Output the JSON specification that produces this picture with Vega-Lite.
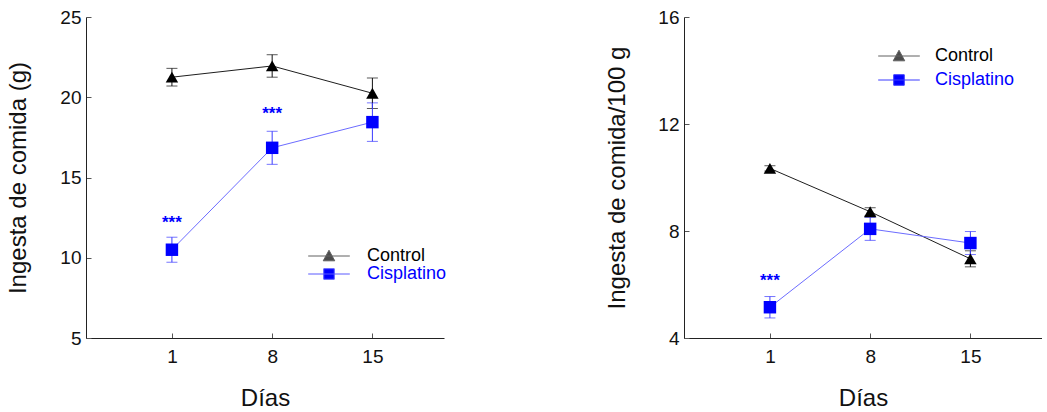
{
  "$schema": "https://vega.github.io/schema/vega-lite/v6.json",
  "background": "white",
  "padding": {"left": 6, "top": 8, "right": 0, "bottom": 0},
  "config": {
    "font": "Liberation Sans",
    "view": {"stroke": null},
    "axis": {
      "grid": false,
      "domainColor": "#222222",
      "domainWidth": 1,
      "tickColor": "#555555",
      "tickSize": -5,
      "labelFont": "Liberation Sans",
      "labelFontSize": 19,
      "labelColor": "#111111",
      "titleFont": "Liberation Sans",
      "titleFontSize": 24,
      "titleFontWeight": "normal",
      "titleColor": "#111111"
    },
    "legend": {
      "labelFont": "Liberation Sans",
      "labelFontSize": 18,
      "symbolSize": 256,
      "symbolStrokeWidth": 1
    }
  },
  "datasets": {
    "consumo": [
      {"dia": 1, "grupo": "Control", "media": 21.25, "ee": 0.55},
      {"dia": 8, "grupo": "Control", "media": 21.95, "ee": 0.7},
      {"dia": 15, "grupo": "Control", "media": 20.25, "ee": 0.95},
      {"dia": 1, "grupo": "Cisplatino", "media": 10.5, "ee": 0.78},
      {"dia": 8, "grupo": "Cisplatino", "media": 16.85, "ee": 1.03},
      {"dia": 15, "grupo": "Cisplatino", "media": 18.45, "ee": 1.2}
    ],
    "consumo_rel": [
      {"dia": 1, "grupo": "Control", "media": 10.34, "ee": 0.1},
      {"dia": 8, "grupo": "Control", "media": 8.72, "ee": 0.15},
      {"dia": 15, "grupo": "Control", "media": 6.96, "ee": 0.3},
      {"dia": 1, "grupo": "Cisplatino", "media": 5.15, "ee": 0.4},
      {"dia": 8, "grupo": "Cisplatino", "media": 8.08, "ee": 0.43},
      {"dia": 15, "grupo": "Cisplatino", "media": 7.55, "ee": 0.43}
    ],
    "sig_abs": [
      {"dia": 1, "media": 12.4, "texto": "***"},
      {"dia": 8, "media": 19.2, "texto": "***"}
    ],
    "sig_rel": [
      {"dia": 1, "media": 6.27, "texto": "***"}
    ]
  },
  "spacing": 240,
  "bounds": "flush",
  "resolve": {
    "scale": {"fill": "independent", "stroke": "independent", "color": "independent", "shape": "independent", "opacity": "independent"},
    "legend": {"fill": "independent", "stroke": "independent", "color": "independent", "shape": "independent", "opacity": "independent"}
  },
  "hconcat": [
    {
      "width": 358,
      "height": 321,
      "data": {"name": "consumo"},
      "encoding": {
        "x": {"field": "dia", "type": "quantitative",
              "scale": {"domain": [-5, 20], "nice": false, "zero": false},
              "axis": {"values": [1, 8, 15], "title": "Días", "labelPadding": 14,
                       "titleX": 179, "titleY": 67, "titleBaseline": "alphabetic"}},
        "y": {"field": "media", "type": "quantitative",
              "scale": {"domain": [5, 25], "nice": false, "zero": false},
              "axis": {"values": [5, 10, 15, 20, 25], "title": "Ingesta de comida (g)", "labelPadding": 10,
                       "titleX": -61, "titleY": 160.5, "titleBaseline": "alphabetic", "titleAngle": -90}}
      },
      "layer": [
        {
          "mark": {"type": "line", "strokeWidth": 1},
          "encoding": {
            "stroke": {"field": "grupo", "type": "nominal",
                       "scale": {"range": ["#6c6cff", "#1e1e1e"]},
                       "legend": null}
          }
        },
        {
          "mark": {"type": "errorbar", "ticks": {"size": 11}, "thickness": 1},
          "encoding": {
            "yError": {"field": "ee"},
            "color": {"field": "grupo", "type": "nominal",
                      "scale": {"range": ["#3a3aff", "#111111"]},
                      "legend": null}
          }
        },
        {
          "mark": {"type": "point", "filled": true},
          "encoding": {
            "shape": {"field": "grupo", "type": "nominal",
                      "scale": {"range": ["square", "triangle-up"]},
                      "legend": null},
            "fill": {"field": "grupo", "type": "nominal",
                     "scale": {"domain": ["Control", "Cisplatino"], "range": ["#000000", "#0000ff"]},
                     "legend": {"orient": "none", "legendX": 234, "legendY": 230, "title": null, "padding": 0,
                                "values": ["Control"],
                                "symbolType": "M-2.6,0H2.6M-0.72,0.6L0,-0.72L0.72,0.6Z",
                                "symbolStrokeColor": "#1e1e1e",
                                "labelOffset": 29, "labelColor": "#000000"}},
            "opacity": {"field": "grupo", "type": "nominal",
                        "scale": {"type": "ordinal", "domain": ["Cisplatino", "Control"], "range": [1, 1]},
                        "legend": {"orient": "none", "legendX": 234, "legendY": 248, "title": null, "padding": 0,
                                   "values": ["Cisplatino"],
                                   "symbolType": "M-2.6,0H2.6M-0.66,-0.66H0.66V0.66H-0.66Z",
                                   "symbolFillColor": "#0000ff",
                                   "symbolStrokeColor": "#5a5aff",
                                   "symbolOpacity": 1,
                                   "labelOffset": 29, "labelColor": "#0000ff"}},
            "size": {"value": 155}
          }
        },
        {
          "data": {"name": "sig_abs"},
          "mark": {"type": "text", "color": "#0000ff", "fontSize": 17, "fontWeight": "bold", "baseline": "alphabetic", "dy": 9},
          "encoding": {"text": {"field": "texto"}}
        }
      ]
    },
    {
      "width": 358,
      "height": 321,
      "data": {"name": "consumo_rel"},
      "encoding": {
        "x": {"field": "dia", "type": "quantitative",
              "scale": {"domain": [-5, 20], "nice": false, "zero": false},
              "axis": {"values": [1, 8, 15], "title": "Días", "labelPadding": 14,
                       "titleX": 179, "titleY": 67, "titleBaseline": "alphabetic"}},
        "y": {"field": "media", "type": "quantitative",
              "scale": {"domain": [4, 16], "nice": false, "zero": false},
              "axis": {"values": [4, 8, 12, 16], "title": "Ingesta de comida/100 g", "labelPadding": 10,
                       "titleX": -60, "titleY": 160.5, "titleBaseline": "alphabetic", "titleAngle": -90}}
      },
      "layer": [
        {
          "mark": {"type": "line", "strokeWidth": 1},
          "encoding": {
            "stroke": {"field": "grupo", "type": "nominal",
                       "scale": {"range": ["#6c6cff", "#1e1e1e"]},
                       "legend": null}
          }
        },
        {
          "mark": {"type": "errorbar", "ticks": {"size": 11}, "thickness": 1},
          "encoding": {
            "yError": {"field": "ee"},
            "color": {"field": "grupo", "type": "nominal",
                      "scale": {"range": ["#3a3aff", "#111111"]},
                      "legend": null}
          }
        },
        {
          "mark": {"type": "point", "filled": true},
          "encoding": {
            "shape": {"field": "grupo", "type": "nominal",
                      "scale": {"range": ["square", "triangle-up"]},
                      "legend": null},
            "fill": {"field": "grupo", "type": "nominal",
                     "scale": {"domain": ["Control", "Cisplatino"], "range": ["#000000", "#0000ff"]},
                     "legend": {"orient": "none", "legendX": 206, "legendY": 30, "title": null, "padding": 0,
                                "values": ["Control"],
                                "symbolType": "M-2.6,0H2.6M-0.72,0.6L0,-0.72L0.72,0.6Z",
                                "symbolStrokeColor": "#1e1e1e",
                                "labelOffset": 27, "labelColor": "#000000"}},
            "opacity": {"field": "grupo", "type": "nominal",
                        "scale": {"type": "ordinal", "domain": ["Cisplatino", "Control"], "range": [1, 1]},
                        "legend": {"orient": "none", "legendX": 206, "legendY": 54, "title": null, "padding": 0,
                                   "values": ["Cisplatino"],
                                   "symbolType": "M-2.6,0H2.6M-0.66,-0.66H0.66V0.66H-0.66Z",
                                   "symbolFillColor": "#0000ff",
                                   "symbolStrokeColor": "#3a3aff",
                                   "symbolOpacity": 1,
                                   "labelOffset": 27, "labelColor": "#0000ff"}},
            "size": {"value": 155}
          }
        },
        {
          "data": {"name": "sig_rel"},
          "mark": {"type": "text", "color": "#0000ff", "fontSize": 17, "fontWeight": "bold", "baseline": "alphabetic", "dy": 9},
          "encoding": {"text": {"field": "texto"}}
        }
      ]
    }
  ]
}
